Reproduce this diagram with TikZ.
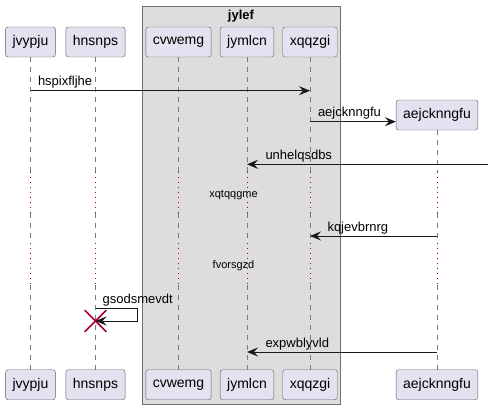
\documentclass[tikz,border=0pt]{standalone}
\usepackage{fontspec}
\setmainfont{Liberation Sans}
\usepackage{tikz}
\usetikzlibrary{arrows.meta,positioning,calc,shapes.misc}
\definecolor{partfill}{HTML}{E2E2F0}
\definecolor{partline}{HTML}{5E5E5E}
\definecolor{boxfill}{HTML}{DDDDDD}
\definecolor{boxline}{HTML}{707070}
\definecolor{delayred}{HTML}{A80036}
\definecolor{lifegray}{HTML}{7A7A7A}
\tikzstyle{participant}=[draw=partline,fill=partfill,rounded corners=2.5pt,minimum height=30pt,inner xsep=7pt,font=\fontsize{14}{16}\selectfont]
\tikzstyle{lifeline}=[draw=lifegray,line width=0.8pt,dash pattern=on 5pt off 5pt]
\tikzstyle{delayline}=[draw=delayred,line width=0.8pt,dash pattern=on 1pt off 4pt]
\tikzstyle{msg}=[draw=black!90,line width=1pt,-{Stealth[length=11pt,width=9pt,inset=4pt]}]
\tikzstyle{msglabel}=[font=\fontsize{13}{15}\selectfont,inner sep=0pt,anchor=base west]
\tikzstyle{delaylabel}=[font=\fontsize{11}{13}\selectfont,inner sep=0pt]
\tikzstyle{killmark}=[cross out,draw=delayred,line width=1.6pt,minimum size=20pt,inner sep=0pt]

\begin{document}
\begin{tikzpicture}[x=1pt,y=-1pt]
\useasboundingbox (0,0) rectangle (488,410);
\draw[boxline,fill=boxfill] (142.5,6) rectangle (340,404.5);
\node[font=\bfseries\fontsize{13}{15}\selectfont,inner sep=0pt,anchor=base] (jylef) at (241,19) {jylef};

\node[participant] (jvypju) at (30.5,42) {jvypju};
\node[participant] (hnsnps) at (95.5,42) {hnsnps};
\node[participant] (cvwemg) at (178.5,42) {cvwemg};
\node[participant] (jymlcn) at (247,42) {jymlcn};
\node[participant] (xqqzgi) at (310,42) {xqqzgi};
\node[participant] (aejcknngfu) at (437,115) {aejcknngfu};

\node[participant] (jvypju-b) at (30.5,384.7) {jvypju};
\node[participant] (hnsnps-b) at (95.5,384.7) {hnsnps};
\node[participant] (cvwemg-b) at (178.5,384.7) {cvwemg};
\node[participant] (jymlcn-b) at (247,384.7) {jymlcn};
\node[participant] (xqqzgi-b) at (310,384.7) {xqqzgi};
\node[participant] (aejcknngfu-b) at (437,384.7) {aejcknngfu};

\foreach \p in {jvypju,hnsnps,cvwemg,jymlcn,xqqzgi,aejcknngfu}{
  \draw[lifeline] (\p.south) -- (\p |- 0,171.7) (\p |- 0,212.7) -- (\p |- 0,243) (\p |- 0,285) -- (\p-b.north);
  \draw[delayline] (\p |- 0,171.7) -- (\p |- 0,212.7) (\p |- 0,243) -- (\p |- 0,285);
}

\draw[msg] (jvypju |- 0,90.7) -- (xqqzgi |- 0,90.7)
  node[msglabel,pos=0,xshift=7pt,yshift=5pt] (hspixfljhe) {hspixfljhe};
\draw[msg] (xqqzgi |- 0,121.7) -- (aejcknngfu.west |- 0,121.7)
  node[msglabel,pos=0,xshift=7.5pt,yshift=5pt] (aejcknngfu-m) {aejcknngfu};
\coordinate (offright) at (488,164.3);
\draw[msg] (offright) -- (jymlcn |- offright)
  node[msglabel,pos=1,xshift=18pt,yshift=5pt] (unhelqsdbs) {unhelqsdbs};

\node[delaylabel] (xqtqqgme) at (233.5,195.5) {xqtqqgme};

\draw[msg] (aejcknngfu |- 0,236) -- (xqqzgi |- 0,236)
  node[msglabel,pos=1,xshift=17pt,yshift=5pt] (kqjevbrnrg) {kqjevbrnrg};

\node[delaylabel] (fvorsgzd) at (233.5,266) {fvorsgzd};

\coordinate (selfturn) at (137.3,308.3);
\node[killmark] (hnsnps-x) at (hnsnps |- 0,321) {};
\draw[msg] (hnsnps |- selfturn) -- (selfturn) |- (hnsnps-x.center);
\node[msglabel] (gsodsmevdt) at ([xshift=7pt,yshift=5pt]hnsnps |- selfturn) {gsodsmevdt};

\draw[msg] (aejcknngfu |- 0,352) -- (jymlcn |- 0,352)
  node[msglabel,pos=1,xshift=18pt,yshift=5pt] (expwblyvld) {expwblyvld};
\end{tikzpicture}
\end{document}
